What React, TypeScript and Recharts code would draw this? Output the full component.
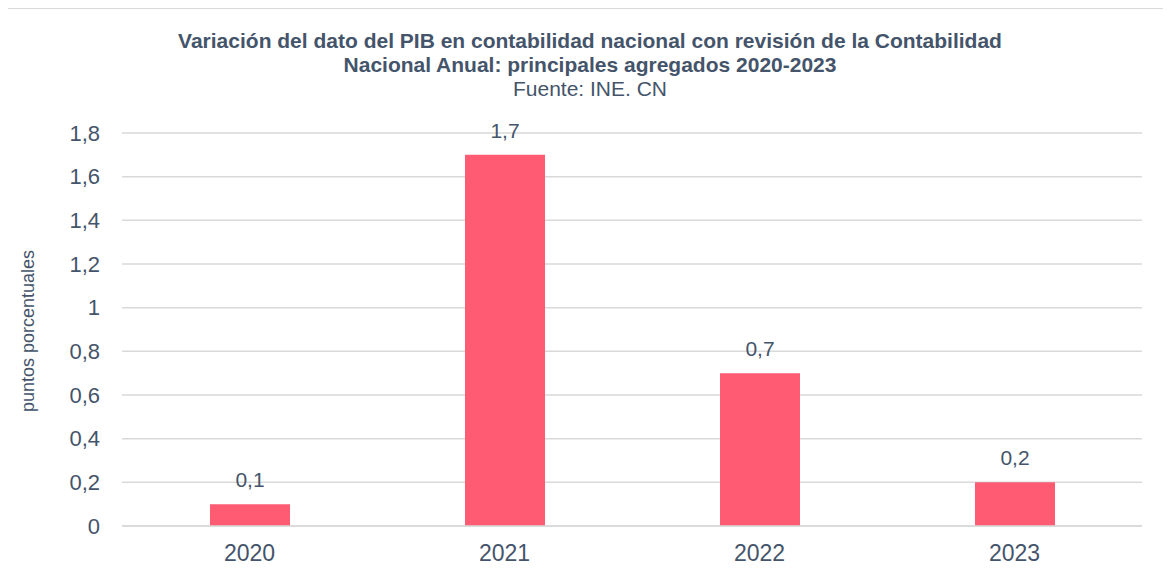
import * as React from 'react'
import { BarChart, Bar, XAxis, YAxis, CartesianGrid, LabelList } from 'recharts'

const years = ['2020', '2021', '2022', '2023']
const variation = [0.1, 1.7, 0.7, 0.2]
const yTicks = [0, 0.2, 0.4, 0.6, 0.8, 1, 1.2, 1.4, 1.6, 1.8]

const data = years.map((year, i) => ({ year, value: variation[i] }))

const textColor = '#44546A'
const barColor = '#FF5B72'
const font = '"Liberation Sans", Arial, sans-serif'

const fmt = (v: number) => String(v).replace('.', ',')

const App = (): JSX.Element => {
	return (
		<div
			style={{
				position: 'relative',
				width: 1170,
				height: 575,
				marginLeft: -1,
				border: '1px solid #d9d9d9',
				boxSizing: 'border-box',
				fontFamily: font,
				color: textColor,
			}}
		>
			<div
				style={{
					position: 'absolute',
					top: 20,
					left: 0,
					width: 1164,
					textAlign: 'center',
					fontWeight: 'bold',
					fontSize: 21,
					lineHeight: '24px',
				}}
			>
				Variación del dato del PIB en contabilidad nacional con revisión de la Contabilidad
				<br />
				Nacional Anual: principales agregados 2020-2023
			</div>
			<div
				style={{
					position: 'absolute',
					top: 68,
					left: 0,
					width: 1164,
					textAlign: 'center',
					fontSize: 21,
					lineHeight: '24px',
				}}
			>
				Fuente: INE. CN
			</div>
			<div
				style={{
					position: 'absolute',
					left: 20,
					top: 330 - 8,
					transform: 'translate(-50%, -50%) rotate(-90deg)',
					fontSize: 18,
					whiteSpace: 'nowrap',
				}}
			>
				puntos porcentuales
			</div>
			<BarChart
				width={1162}
				height={566}
				data={data}
				margin={{ top: 124, right: 28, left: 54, bottom: 0 }}
				style={{ position: 'absolute', top: 0, left: 0 }}
			>
				<CartesianGrid vertical={false} stroke="#d9d9d9" strokeWidth={1.5} />
				<XAxis
					dataKey="year"
					tickLine={false}
					axisLine={{ stroke: '#d9d9d9', strokeWidth: 1.5 }}
					tickMargin={13}
					height={49}
					tick={{ fill: textColor, fontSize: 23, fontFamily: font }}
				/>
				<YAxis
					width={60}
					domain={[0, 1.8]}
					ticks={yTicks}
					tickFormatter={fmt}
					axisLine={false}
					tickLine={false}
					tickMargin={16}
					tick={{ fill: textColor, fontSize: 22, fontFamily: font }}
				/>
				<Bar dataKey="value" fill={barColor} barSize={80} isAnimationActive={false}>
					<LabelList
						dataKey="value"
						position="top"
						offset={17}
						formatter={(v: number) => fmt(v)}
						style={{ fill: textColor, fontSize: 21, fontFamily: font }}
					/>
				</Bar>
			</BarChart>
		</div>
	)
}

export default App
